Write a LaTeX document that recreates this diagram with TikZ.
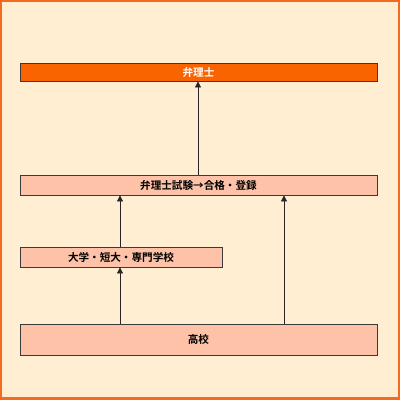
\documentclass[tikz,border=0pt]{standalone}
\usepackage{fontspec}
\newfontfamily\jp{Noto Sans CJK JP}[BoldFont={Noto Sans CJK JP Bold}]
\usetikzlibrary{arrows.meta}
\definecolor{bgc}{HTML}{FFEED2}
\definecolor{framec}{HTML}{F36C1E}
\definecolor{topc}{HTML}{F96300}
\definecolor{boxc}{HTML}{FDC2A8}
\definecolor{linec}{HTML}{3A3A3A}
\begin{document}
\begin{tikzpicture}[x=1pt,y=-1pt,
  box/.style={draw=linec, line width=0.8pt, fill=boxc, inner sep=0pt, font=\jp\bfseries\fontsize{10.6}{11}\selectfont},
  arr/.style={draw=black!85, line width=0.7pt, -{Triangle[width=6pt,length=6pt]}}]
\fill[framec] (0,0) rectangle (400,400);
\fill[bgc] (2,2) rectangle (398,397);
\useasboundingbox (0,0) rectangle (400,400);
\node[box, fill=topc, text=white, minimum width=357pt, minimum height=18pt] (ben) at (198.5,72) {弁理士};
\node[box, minimum width=357pt, minimum height=20pt] (shi) at (198.5,185) {弁理士試験→合格・登録};
\node[box, minimum width=202pt, minimum height=20pt] (dai) at (121,257) {大学・短大・専門学校};
\node[box, minimum width=357pt, minimum height=31pt] (kou) at (198.5,339.5) {高校};
\draw[arr] (shi.north -| 198,0) -- (ben.south -| 198,0);
\draw[arr] (dai.north -| 120,0) -- (shi.south -| 120,0);
\draw[arr] (kou.north -| 120,0) -- (dai.south -| 120,0);
\draw[arr] (kou.north -| 284,0) -- (shi.south -| 284,0);
\end{tikzpicture}
\end{document}
